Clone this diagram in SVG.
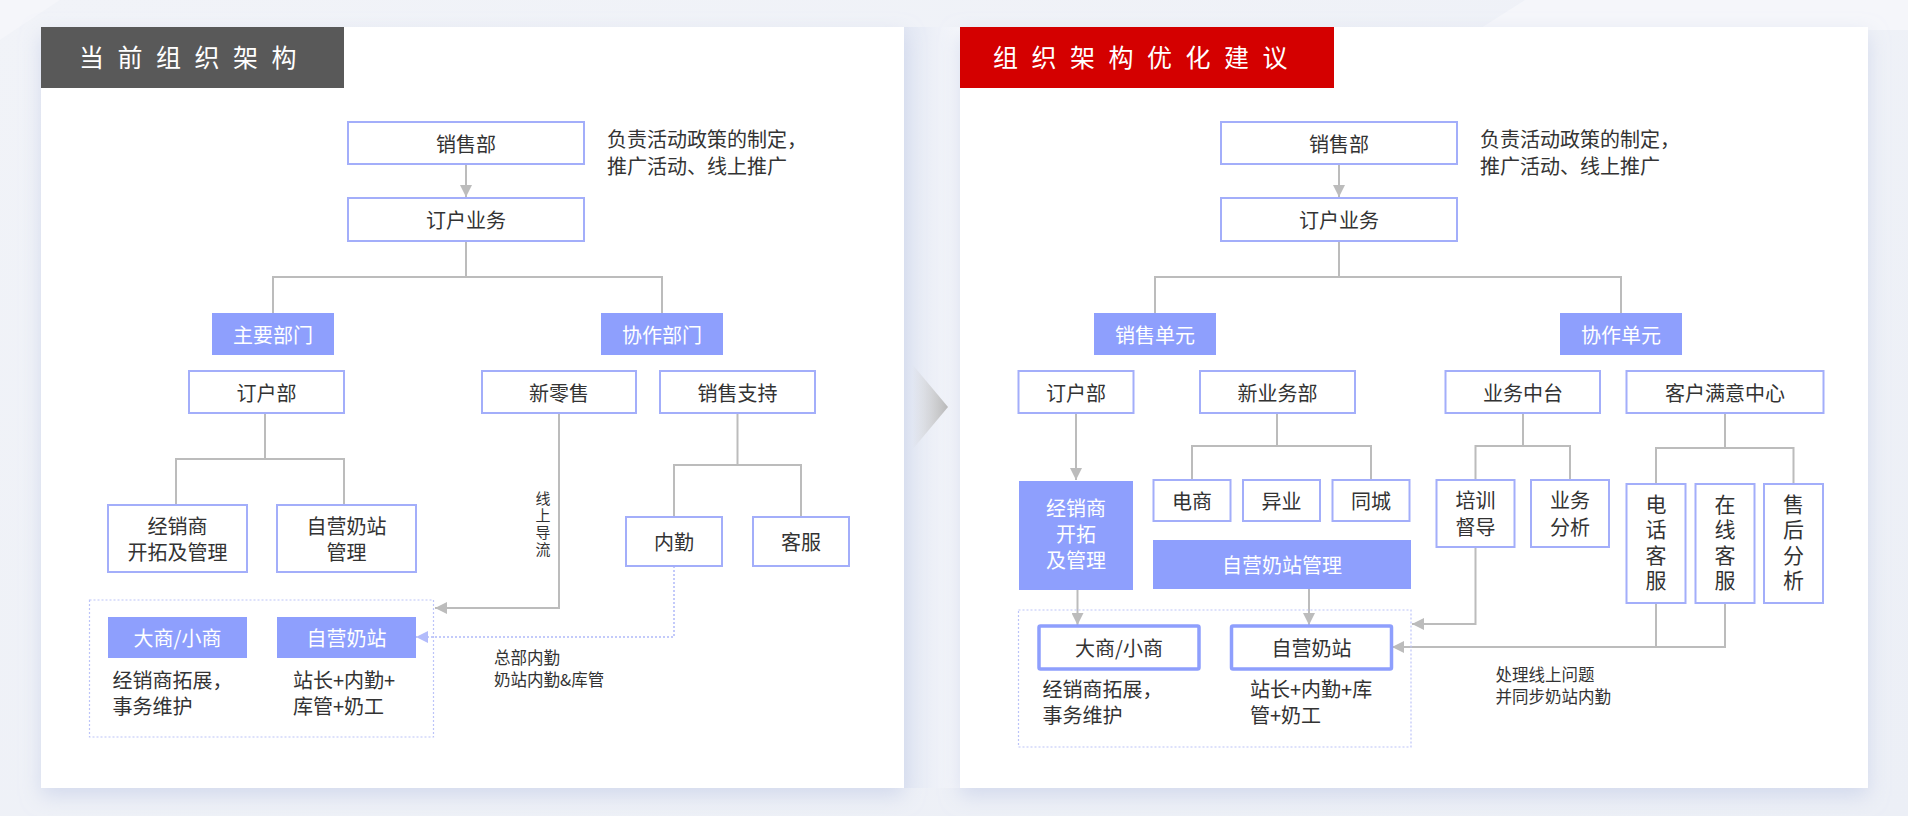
<svg xmlns="http://www.w3.org/2000/svg" width="1908" height="816" viewBox="0 0 1908 816">
<defs>
<style>
.t{font-family:"Noto Sans CJK SC","Noto Sans",sans-serif;font-size:20px;fill:#333;}
.m{text-anchor:middle;dominant-baseline:central;}
.l{dominant-baseline:central;}
.w{fill:#fff;}
.s{font-size:16.5px;}
.v{font-size:15px;writing-mode:vertical-rl;text-anchor:middle;letter-spacing:2px;}
.vt{font-size:21px;writing-mode:vertical-rl;text-anchor:middle;letter-spacing:4.5px;}
.box{fill:#fff;stroke:#a3aefa;stroke-width:2;}
.fb{fill:#8e9ffd;}
.bb{fill:#fff;stroke:#8e9ffd;stroke-width:3.5;}
.c{stroke:#bcbcbc;stroke-width:2;fill:none;}
.d{stroke:#b0b9f9;stroke-width:1.5;stroke-dasharray:2 2;fill:none;}
.g{stroke:#bcc4f8;stroke-width:1.2;stroke-dasharray:2 2;fill:none;}
.title{font-family:"Noto Sans CJK SC","Noto Sans",sans-serif;font-size:25px;fill:#fff;letter-spacing:13.5px;dominant-baseline:central;}
</style>
<marker id="ag" viewBox="0 0 12 12" refX="12" refY="6" markerWidth="12" markerHeight="12" markerUnits="userSpaceOnUse" orient="auto"><path d="M0,0 L12,6 L0,12 z" fill="#bcbcbc"/></marker>
<marker id="ab" viewBox="0 0 12 12" refX="12" refY="6" markerWidth="12" markerHeight="12" markerUnits="userSpaceOnUse" orient="auto"><path d="M0,0 L12,6 L0,12 z" fill="#b3bcfb"/></marker>
<linearGradient id="bg" x1="0" y1="0" x2="1" y2="1"><stop offset="0" stop-color="#f1f3f8"/><stop offset="1" stop-color="#eceff6"/></linearGradient>
<linearGradient id="chev" x1="0" y1="0" x2="1" y2="0"><stop offset="0" stop-color="#c4c4c4" stop-opacity="0"/><stop offset="1" stop-color="#b8b8b8"/></linearGradient>
<linearGradient id="gap" x1="0" y1="0" x2="1" y2="0"><stop offset="0" stop-color="#e2e7f3"/><stop offset="1" stop-color="#f7f8fb"/></linearGradient>
<filter id="sh" x="-5%" y="-5%" width="110%" height="115%"><feDropShadow dx="0" dy="8" stdDeviation="10" flood-color="#c8d0e8" flood-opacity="0.7"/></filter>
</defs>

<rect x="0" y="0" width="1908" height="816" fill="url(#bg)"/>
<polygon points="1525,0 1908,0 1908,30 1478,30" fill="#f5f6fa"/>
<polygon points="0,40 60,0 0,0" fill="#f5f6fa"/>
<rect x="904" y="27" width="57" height="761" fill="url(#gap)"/>

<!-- Left panel -->
<g id="panel-left">
<rect x="41" y="27" width="863" height="761" fill="#fff" filter="url(#sh)"/>
<rect x="41" y="27" width="303" height="61" fill="#595959"/>
<text class="title" x="79" y="56">当前组织架构</text>
</g>

<!-- Right panel -->
<g id="panel-right">
<rect x="960" y="27" width="908" height="761" fill="#fff" filter="url(#sh)"/>
<rect x="960" y="27" width="374" height="61" fill="#d40000"/>
<text class="title" x="993" y="56">组织架构优化建议</text>
</g>

<polygon id="chevron" points="912,364 948,407 912,450" fill="url(#chev)"/>

<!-- Connectors -->
<g id="connectors">
<!-- left -->
<line class="c" x1="466" y1="164" x2="466" y2="197" marker-end="url(#ag)"/>
<polyline class="c" points="466,241 466,277"/>
<polyline class="c" points="273,313 273,277 662,277 662,313"/>
<polyline class="c" points="265,413 265,459"/>
<polyline class="c" points="176,505 176,459 344,459 344,505"/>
<polyline class="c" points="559,413 559,608 435,608" marker-end="url(#ag)"/>
<polyline class="c" points="737.5,413 737.5,465"/>
<polyline class="c" points="674,517 674,465 801,465 801,517"/>
<polyline class="d" points="674,566 674,637 416,637" marker-end="url(#ab)"/>
<rect class="g" x="89.5" y="600" width="344" height="137"/>
<!-- right -->
<line class="c" x1="1339" y1="164" x2="1339" y2="197" marker-end="url(#ag)"/>
<polyline class="c" points="1339,241 1339,277"/>
<polyline class="c" points="1155,313 1155,277 1621,277 1621,313"/>
<line class="c" x1="1076" y1="413" x2="1076" y2="480" marker-end="url(#ag)"/>
<polyline class="c" points="1277,413 1277,446"/>
<polyline class="c" points="1192,480 1192,446 1371,446 1371,480"/>
<polyline class="c" points="1523,413 1523,446"/>
<polyline class="c" points="1475.5,480 1475.5,446 1570,446 1570,480"/>
<polyline class="c" points="1725,413 1725,448"/>
<polyline class="c" points="1656,484 1656,448 1793.5,448 1793.5,484"/>
<polyline class="c" points="1475.5,547 1475.5,624 1412,624" marker-end="url(#ag)"/>
<polyline class="c" points="1656,603 1656,647"/>
<polyline class="c" points="1725,603 1725,647 1392,647" marker-end="url(#ag)"/>
<line class="c" x1="1077.5" y1="590" x2="1077.5" y2="625" marker-end="url(#ag)"/>
<line class="c" x1="1309" y1="589" x2="1309" y2="625" marker-end="url(#ag)"/>
<rect class="g" x="1018.5" y="610" width="392.5" height="137"/>
</g>

<!-- Left nodes -->
<g id="l-xiaoshoubu"><rect class="box" x="348" y="122" width="236" height="42"/><text class="t m" x="466" y="143">销售部</text></g>
<g id="l-note"><text class="t l"><tspan x="607" y="138">负责活动政策的制定，</tspan><tspan x="607" y="165">推广活动、线上推广</tspan></text></g>
<g id="l-dinghuyewu"><rect class="box" x="348" y="198" width="236" height="43"/><text class="t m" x="466" y="219.5">订户业务</text></g>
<g id="l-zhuyao"><rect class="fb" x="212" y="313" width="122" height="42"/><text class="t m w" x="273" y="334">主要部门</text></g>
<g id="l-xiezuo"><rect class="fb" x="601" y="313" width="122" height="42"/><text class="t m w" x="662" y="334">协作部门</text></g>
<g id="l-dinghubu"><rect class="box" x="189" y="371" width="155" height="42"/><text class="t m" x="266.5" y="392">订户部</text></g>
<g id="l-xinlingshou"><rect class="box" x="482" y="371" width="154" height="42"/><text class="t m" x="559" y="392">新零售</text></g>
<g id="l-xiaoshouzhichi"><rect class="box" x="660" y="371" width="155" height="42"/><text class="t m" x="737.5" y="392">销售支持</text></g>
<g id="l-jingxiaoshang"><rect class="box" x="108" y="505" width="139" height="67"/><text class="t m"><tspan x="177.5" y="524.5">经销商</tspan><tspan x="177.5" y="550.5">开拓及管理</tspan></text></g>
<g id="l-ziyingguanli"><rect class="box" x="277" y="505" width="139" height="67"/><text class="t m"><tspan x="346.5" y="524.5">自营奶站</tspan><tspan x="346.5" y="550.5">管理</tspan></text></g>
<g id="l-xianshang"><text class="t v" x="543" y="524.5">线上导流</text></g>
<g id="l-neiqin"><rect class="box" x="626" y="517" width="96" height="49"/><text class="t m" x="674" y="541.5">内勤</text></g>
<g id="l-kefu"><rect class="box" x="753" y="517" width="96" height="49"/><text class="t m" x="801" y="541.5">客服</text></g>
<g id="l-dashang"><rect class="fb" x="108" y="617" width="139" height="41"/><text class="t m w" x="177.5" y="637.5">大商/小商</text><text class="t l"><tspan x="112.5" y="679">经销商拓展，</tspan><tspan x="112.5" y="705">事务维护</tspan></text></g>
<g id="l-ziying"><rect class="fb" x="277" y="617" width="139" height="41"/><text class="t m w" x="346.5" y="637.5">自营奶站</text><text class="t l"><tspan x="293" y="679">站长+内勤+</tspan><tspan x="293" y="705">库管+奶工</tspan></text></g>
<g id="l-zongbu"><text class="t l s"><tspan x="494" y="657">总部内勤</tspan><tspan x="494" y="679">奶站内勤&amp;库管</tspan></text></g>

<!-- Right nodes -->
<g id="r-xiaoshoubu"><rect class="box" x="1221" y="122" width="236" height="42"/><text class="t m" x="1339" y="143">销售部</text></g>
<g id="r-note"><text class="t l"><tspan x="1480" y="138">负责活动政策的制定，</tspan><tspan x="1480" y="165">推广活动、线上推广</tspan></text></g>
<g id="r-dinghuyewu"><rect class="box" x="1221" y="198" width="236" height="43"/><text class="t m" x="1339" y="219.5">订户业务</text></g>
<g id="r-xiaoshoudanyuan"><rect class="fb" x="1094" y="313" width="122" height="42"/><text class="t m w" x="1155" y="334">销售单元</text></g>
<g id="r-xiezuodanyuan"><rect class="fb" x="1560" y="313" width="122" height="42"/><text class="t m w" x="1621" y="334">协作单元</text></g>
<g id="r-dinghubu"><rect class="box" x="1018.5" y="371" width="115" height="42"/><text class="t m" x="1076" y="392">订户部</text></g>
<g id="r-xinyewubu"><rect class="box" x="1200" y="371" width="155" height="42"/><text class="t m" x="1277.5" y="392">新业务部</text></g>
<g id="r-yewuzhongtai"><rect class="box" x="1445.5" y="371" width="154.5" height="42"/><text class="t m" x="1523" y="392">业务中台</text></g>
<g id="r-kehumanyi"><rect class="box" x="1626.5" y="371" width="197" height="42"/><text class="t m" x="1725" y="392">客户满意中心</text></g>
<g id="r-jingxiaoshang"><rect class="fb" x="1019" y="481" width="114" height="109"/><text class="t m w"><tspan x="1076" y="507">经销商</tspan><tspan x="1076" y="533">开拓</tspan><tspan x="1076" y="559">及管理</tspan></text></g>
<g id="r-dianshang"><rect class="box" x="1153.5" y="480" width="77" height="41"/><text class="t m" x="1192" y="500.5">电商</text></g>
<g id="r-yiye"><rect class="box" x="1243" y="480" width="77" height="41"/><text class="t m" x="1281.5" y="500.5">异业</text></g>
<g id="r-tongcheng"><rect class="box" x="1332.5" y="480" width="77" height="41"/><text class="t m" x="1371" y="500.5">同城</text></g>
<g id="r-ziyingguanli"><rect class="fb" x="1153" y="540" width="258" height="49"/><text class="t m w" x="1282" y="564.5">自营奶站管理</text></g>
<g id="r-peixun"><rect class="box" x="1436.5" y="480" width="78" height="67"/><text class="t m"><tspan x="1475.5" y="499">培训</tspan><tspan x="1475.5" y="526">督导</tspan></text></g>
<g id="r-yewufenxi"><rect class="box" x="1531" y="480" width="78" height="67"/><text class="t m"><tspan x="1570" y="499">业务</tspan><tspan x="1570" y="526">分析</tspan></text></g>
<g id="r-dianhua"><rect class="box" x="1626.5" y="484" width="59" height="119"/><text class="t vt" x="1656" y="544.5">电话客服</text></g>
<g id="r-zaixian"><rect class="box" x="1695.5" y="484" width="59" height="119"/><text class="t vt" x="1725" y="544.5">在线客服</text></g>
<g id="r-shouhou"><rect class="box" x="1764" y="484" width="59" height="119"/><text class="t vt" x="1793.5" y="544.5">售后分析</text></g>
<g id="r-dashang"><rect class="bb" x="1039" y="626" width="160" height="43" rx="1.5"/><text class="t m" x="1119" y="647.5">大商/小商</text><text class="t l"><tspan x="1042.5" y="688">经销商拓展，</tspan><tspan x="1042.5" y="714">事务维护</tspan></text></g>
<g id="r-ziying"><rect class="bb" x="1231.5" y="626" width="160" height="43" rx="1.5"/><text class="t m" x="1311.5" y="647.5">自营奶站</text><text class="t l"><tspan x="1250" y="688">站长+内勤+库</tspan><tspan x="1250" y="714">管+奶工</tspan></text></g>
<g id="r-chuli"><text class="t l s"><tspan x="1495.5" y="673.5">处理线上问题</tspan><tspan x="1495.5" y="695.5">并同步奶站内勤</tspan></text></g>
</svg>
